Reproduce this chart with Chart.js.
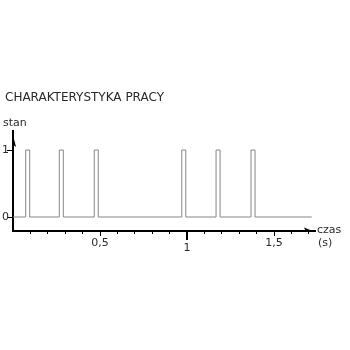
<!doctype html>
<html lang="pl">
  <head>
    <meta charset="utf-8">
    <title>Charakterystyka pracy</title>
    <style>
      * {
        margin: 0;
        padding: 0;
      }
      body {
        background: #fff;
      }
      .chartBox {
        width: 350px;
        height: 350px;
      }
    </style>
  </head>
  <body>
    <div class="chartBox">
      <canvas id="myChart"></canvas>
    </div>
    <script src="https://cdn.jsdelivr.net/npm/chart.js/dist/chart.umd.min.js"></script>
    <script>
    // time (s) at which each state starts, and the state itself (held until the next time)
    const times = [0, 0.073, 0.096, 0.266, 0.289, 0.467, 0.490, 0.970, 0.993, 1.167, 1.190, 1.368, 1.391, 1.717];
    const states = [0, 1, 0, 1, 0, 1, 0, 1, 0, 1, 0, 1, 0, 0];

    // axis ticks
    const xTicks = [0.1, 0.2, 0.3, 0.4, 0.5, 0.6, 0.7, 0.8, 0.9, 1, 1.1, 1.2, 1.3, 1.4, 1.5, 1.6, 1.7];
    const xTickLabels = {0.5: '0,5', 1: '1', 1.5: '1,5'};
    const yTicks = [0, 1];

    const textColor = '#2a2a2a';
    const fontFamily = '"DejaVu Sans", Verdana, sans-serif';

    // arrows, y labels + axis names, drawn from the scale positions
    const axisExtras = {
      id: 'axisExtras',
      afterDraw(chart) {
        const {ctx, chartArea} = chart;
        const x = chart.scales.x;
        const y = chart.scales.y;
        const x0 = chartArea.left;
        const yb = chartArea.bottom;
        ctx.save();
        ctx.fillStyle = '#000';
        ctx.strokeStyle = '#000';
        // y arrow (half head on the right)
        ctx.beginPath();
        ctx.moveTo(x0 - 1, chartArea.top);
        ctx.lineTo(x0 + 3, chartArea.top + 16);
        ctx.lineTo(x0 - 1, chartArea.top + 13);
        ctx.closePath();
        ctx.fill();
        // x arrow (half head on top)
        ctx.beginPath();
        ctx.moveTo(chartArea.right, yb + 1);
        ctx.lineTo(chartArea.right - 11, yb - 3.5);
        ctx.lineTo(chartArea.right - 9, yb + 1);
        ctx.closePath();
        ctx.fill();
        // longer marks for the labelled ticks
        ctx.lineWidth = 1;
        [[0.5, 5], [1.5, 5]].forEach(([v, len]) => {
          const px = Math.round(x.getPixelForValue(v)) + 0.5;
          ctx.beginPath();
          ctx.moveTo(px, yb);
          ctx.lineTo(px, yb + len);
          ctx.stroke();
        });
        ctx.lineWidth = 2;
        const p1 = Math.round(x.getPixelForValue(1));
        ctx.beginPath();
        ctx.moveTo(p1, yb);
        ctx.lineTo(p1, yb + 9);
        ctx.stroke();
        // texts
        ctx.fillStyle = textColor;
        ctx.font = '11px ' + fontFamily;
        ctx.textAlign = 'right';
        ctx.textBaseline = 'middle';
        yTicks.forEach(v => {
          ctx.fillText(String(v), x0 - 4, y.getPixelForValue(v));
        });
        ctx.textBaseline = 'alphabetic';
        ctx.textAlign = 'left';
        ctx.fillText('stan', 3, chartArea.top - 5);
        ctx.fillText('czas', chartArea.right + 2, yb + 2);
        ctx.fillText('(s)', chartArea.right + 3, yb + 15);
        ctx.restore();
      }
    };

    const data = {
      datasets: [{
        data: times.map((t, i) => ({x: t, y: states[i]})),
        borderColor: '#858585',
        borderWidth: 1,
        pointRadius: 0,
        stepped: true,
        fill: false
      }]
    };

    const config = {
      type: 'line',
      data,
      options: {
        responsive: true,
        maintainAspectRatio: false,
        animation: false,
        layout: {
          padding: {left: 5, right: 35, top: 0, bottom: 99}
        },
        scales: {
          x: {
            type: 'linear',
            min: 0,
            max: 1.7356,
            afterBuildTicks: (scale) => {
              scale.ticks = xTicks.map(v => ({value: v}));
            },
            afterFit: (scale) => {
              scale.height = 20;
            },
            border: {display: true, color: '#000', width: 2},
            grid: {
              drawOnChartArea: false,
              drawTicks: true,
              tickLength: 3,
              tickColor: '#000',
              tickWidth: 1
            },
            ticks: {
              autoSkip: false,
              maxRotation: 0,
              padding: 3,
              color: textColor,
              font: (ctx) => ({
                family: fontFamily,
                size: 11,
                lineHeight: ctx.tick && ctx.tick.value === 1 ? 2.0 : 1.2
              }),
              callback: (value) => xTickLabels[value] || ''
            }
          },
          y: {
            type: 'linear',
            min: -0.209,
            max: 1.284,
            afterBuildTicks: (scale) => {
              scale.ticks = yTicks.map(v => ({value: v}));
            },
            afterFit: (scale) => {
              scale.width = 8;
            },
            border: {display: true, color: '#000', width: 2},
            grid: {
              drawOnChartArea: false,
              drawTicks: true,
              tickLength: 6,
              tickColor: '#000',
              tickWidth: 1
            },
            ticks: {
              display: false
            }
          }
        },
        plugins: {
          legend: {display: false},
          tooltip: {enabled: false},
          title: {
            display: true,
            text: 'CHARAKTERYSTYKA PRACY',
            align: 'start',
            color: textColor,
            font: {family: fontFamily, size: 12, weight: 'normal'},
            padding: {top: 91, bottom: 25.6}
          }
        }
      },
      plugins: [axisExtras]
    };

    const myChart = new Chart(document.getElementById('myChart'), config);
    </script>
  </body>
</html>
